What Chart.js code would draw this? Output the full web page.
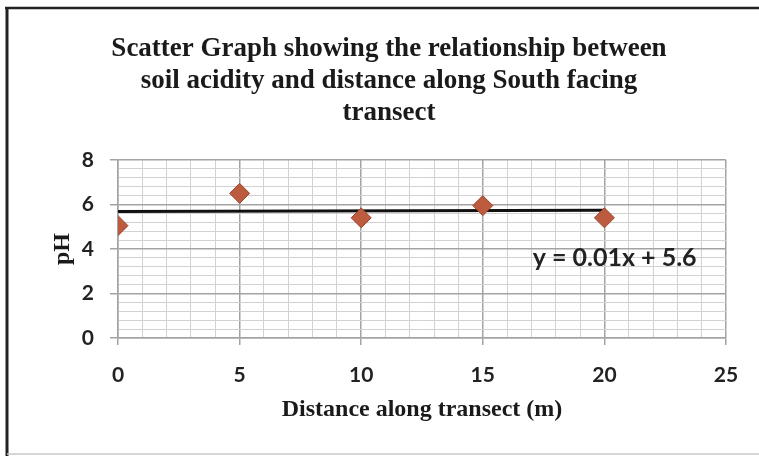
<!DOCTYPE html>
<html>
<head>
<meta charset="utf-8">
<script src="https://cdn.jsdelivr.net/npm/chart.js@4"></script>
<style>
  body { margin: 0; background: #fff; }
  #box { width: 759px; height: 456px; position: relative; }
</style>
</head>
<body>
<div id="box"><canvas id="myChart" width="759" height="456"></canvas></div>
<script>
// readings
const distances = [0, 5, 10, 15, 20];
const phValues = [5.05, 6.5, 5.4, 5.95, 5.4];
const trendX = [0, 20];
const trendY = [5.68, 5.74];
const xTicks = [0, 5, 10, 15, 20, 25];
const yTicks = [0, 2, 4, 6, 8];
const titleLines = [
    "Scatter Graph showing the relationship between",
    "soil acidity and distance along South facing",
    "transect"
];
const equationText = "y = 0.01x + 5.6";

function isMajor(v, list) {
    return list.some(t => Math.abs(t - v) < 1e-6);
}

// white page, scanned frame and the trendline equation
const framePlugin = {
    id: "frame",
    beforeDraw(chart) {
        const ctx = chart.ctx;
        ctx.save();
        ctx.fillStyle = "#fff";
        ctx.fillRect(0, 0, chart.width, chart.height);
        ctx.restore();
    },
    afterDraw(chart) {
        const ctx = chart.ctx;
        ctx.save();
        ctx.strokeStyle = "#222";
        ctx.lineWidth = 2.5;
        ctx.beginPath();
        ctx.moveTo(5, 8);
        ctx.lineTo(759, 8);
        ctx.stroke();
        ctx.lineWidth = 3;
        ctx.beginPath();
        ctx.moveTo(7, 7);
        ctx.lineTo(7, 456);
        ctx.stroke();
        ctx.strokeStyle = "#c8c8c8";
        ctx.lineWidth = 1.5;
        ctx.beginPath();
        ctx.moveTo(7, 454);
        ctx.lineTo(759, 454);
        ctx.stroke();

        const xs = chart.scales.x, ys = chart.scales.y;
        ctx.fillStyle = "#222";
        ctx.font = "bold 25px Lato";
        ctx.textBaseline = "middle";
        ctx.textAlign = "left";
        ctx.fillText(equationText, xs.getPixelForValue(17.05), ys.getPixelForValue(3.6));
        ctx.restore();
    }
};

const ctx = document.getElementById("myChart").getContext("2d");
const myChart = new Chart(ctx, {
    data: {
        datasets: [{
            type: "line",
            label: "Trend",
            data: trendX.map((x, i) => ({ x: x, y: trendY[i] })),
            borderColor: "#111",
            borderWidth: 3,
            pointRadius: 0,
            order: 2
        }, {
            type: "scatter",
            label: "pH",
            data: distances.map((x, i) => ({ x: x, y: phValues[i] })),
            pointStyle: "rectRot",
            pointRadius: 10,
            backgroundColor: "#bd5b3f",
            borderColor: "#9a4630",
            borderWidth: 1,
            order: 1
        }]
    },
    options: {
        responsive: false,
        animation: false,
        layout: { padding: { left: 52, right: 33, top: 0, bottom: 18 } },
        plugins: {
            legend: { display: false },
            tooltip: { enabled: false },
            title: {
                display: true,
                text: titleLines,
                color: "#1a1a1a",
                font: { family: "Liberation Serif", size: 27, weight: "bold", lineHeight: 1.185 },
                padding: { top: 33, bottom: 31 }
            }
        },
        scales: {
            x: {
                type: "linear",
                min: 0,
                max: 25,
                afterFit(scale) { scale.height = 100; },
                ticks: {
                    stepSize: 1,
                    autoSkip: false,
                    maxRotation: 0,
                    padding: 18,
                    color: "#222",
                    font: { family: "Lato", size: 21, weight: "bold" },
                    callback: v => isMajor(v, xTicks) ? v : ""
                },
                grid: {
                    color: c => isMajor(c.tick.value, xTicks) ? "#a3a3a3" : "#d2d2d2",
                    lineWidth: c => isMajor(c.tick.value, xTicks) ? 1.5 : 1,
                    tickColor: c => isMajor(c.tick.value, xTicks) ? "#a3a3a3" : "rgba(0,0,0,0)",
                    tickLength: 7
                },
                border: { color: "#a3a3a3", width: 1.5 },
                title: {
                    display: true,
                    text: "Distance along transect (m)",
                    color: "#1a1a1a",
                    font: { family: "Liberation Serif", size: 24, weight: "bold" },
                    padding: { top: 0, bottom: 14 }
                }
            },
            y: {
                type: "linear",
                min: 0,
                max: 8,
                afterFit(scale) { scale.width = 66; },
                ticks: {
                    stepSize: 0.4,
                    autoSkip: false,
                    padding: 16,
                    color: "#222",
                    font: { family: "Lato", size: 21, weight: "bold" },
                    callback: v => isMajor(v, yTicks) ? Math.round(v) : ""
                },
                grid: {
                    color: c => isMajor(c.tick.value, yTicks) ? "#a3a3a3" : "#d2d2d2",
                    lineWidth: c => isMajor(c.tick.value, yTicks) ? 1.5 : 1,
                    tickColor: c => isMajor(c.tick.value, yTicks) ? "#a3a3a3" : "rgba(0,0,0,0)",
                    tickLength: 8
                },
                border: { color: "#a3a3a3", width: 1.5 },
                title: {
                    display: true,
                    text: "pH",
                    color: "#1a1a1a",
                    font: { family: "Liberation Serif", size: 24, weight: "bold" },
                    padding: { top: -4, bottom: 0 }
                }
            }
        }
    },
    plugins: [framePlugin]
});
</script>
</body>
</html>
